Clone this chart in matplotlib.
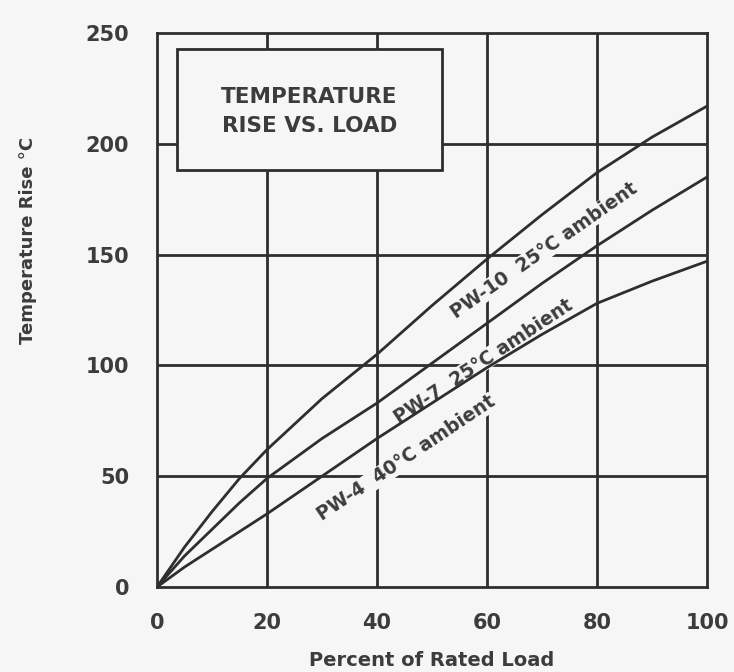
import matplotlib.pyplot as plt
from matplotlib.patches import Rectangle

# load (% of rating) vs temperature rise (deg C)
load_pct = [0, 5, 10, 15, 20, 30, 40, 50, 60, 70, 80, 90, 100]
pw10_rise = [0, 18, 34, 49, 62, 85, 105, 127, 148, 168, 187, 203, 217]
pw7_rise = [0, 14, 26, 38, 49, 67, 83, 101, 119, 137, 154, 170, 185]
pw4_rise = [0, 9, 17, 25, 33, 50, 67, 83, 99, 114, 128, 138, 147]

x_ticks = [0, 20, 40, 60, 80, 100]
y_ticks = [0, 50, 100, 150, 200, 250]

bg = '#f6f6f6'
ink = '#2e2e2e'
txt = '#3c3c3c'
font = ['DejaVu Sans']

fig = plt.figure(figsize=(7.34, 6.72), dpi=100, facecolor=bg)
ax = fig.add_axes([157 / 734, 85 / 672, 550 / 734, 554 / 672])
ax.set_facecolor(bg)

for x in x_ticks[1:-1]:
    ax.axvline(x, color=ink, lw=2.0, zorder=1)
for y in y_ticks[1:-1]:
    ax.axhline(y, color=ink, lw=2.0, zorder=1)

for rise in (pw10_rise, pw7_rise, pw4_rise):
    ax.plot(load_pct, rise, color=ink, lw=2.0, zorder=3, solid_capstyle='round')

# title box
ax.add_patch(Rectangle((3.6, 188), 48.2, 55, facecolor=bg, edgecolor=ink,
                       lw=2.0, zorder=4))
ax.text(27.7, 214.5, 'TEMPERATURE\nRISE VS. LOAD', ha='center', va='center',
        fontsize=15.5, fontweight='bold', color=txt, family=font,
        linespacing=1.55, zorder=5)

# curve labels, each sitting just under its own curve
labels = [
    (70.4, 152, 35.0, 'PW-10  25°C ambient'),
    (59.3, 102, 33.5, 'PW-7  25°C ambient'),
    (45.3, 58, 33.8, 'PW-4  40°C ambient'),
]
for x, y, rot, s in labels:
    ax.text(x, y, s, rotation=rot, rotation_mode='anchor', ha='center',
            va='center', fontsize=13.5, fontweight='bold', color=txt,
            family=font, zorder=2,
            bbox=dict(facecolor=bg, edgecolor='none', pad=0.3))

ax.set_xlim(0, 100)
ax.set_ylim(0, 250)
ax.set_xticks(x_ticks)
ax.set_yticks(y_ticks)
ax.tick_params(length=0, labelsize=15, labelcolor=txt)
ax.tick_params(axis='x', pad=19)
ax.tick_params(axis='y', pad=20)
for lab in ax.get_xticklabels() + ax.get_yticklabels():
    lab.set_family(font)
    lab.set_fontweight('bold')
for sp in ax.spines.values():
    sp.set_color(ink)
    sp.set_linewidth(2.0)

ax.set_xlabel('Percent of Rated Load', fontsize=14, fontweight='bold',
              color=txt, family=font)
ax.xaxis.label.set_va('baseline')
ax.xaxis.set_label_coords(0.5, -0.1426)
ax.set_ylabel('Temperature Rise °C', fontsize=13, fontweight='bold',
              color=txt, family=font)
ax.yaxis.set_label_coords(-0.218, 0.626)

fig.savefig('out.png', dpi=100, facecolor=bg)
